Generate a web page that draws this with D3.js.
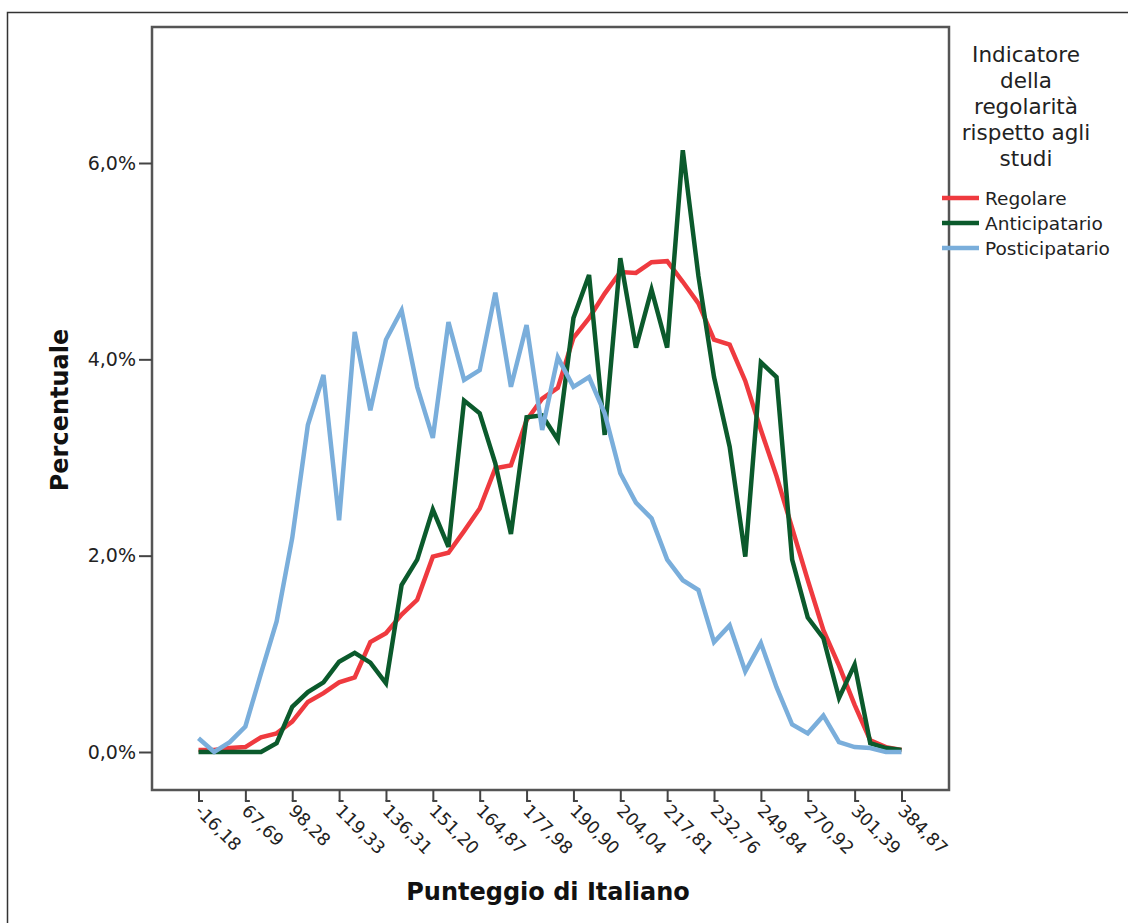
<!DOCTYPE html>
<html><head><meta charset="utf-8">
<script src="https://cdn.jsdelivr.net/npm/d3@7"></script>
<style>html,body{margin:0;padding:0;background:#fff;} svg{display:block;}</style>
</head><body>
<svg id="chart" width="1128" height="923"></svg>
<script>
// ---- data ----
const seriesNames = ["Regolare", "Anticipatario", "Posticipatario"];
const seriesColors = ["#ef3a3f", "#0b5a2c", "#7aaedb"];
const regolare = [0.02,0.02,0.04,0.05,0.15,0.19,0.31,0.51,0.60,0.71,0.76,1.12,1.21,1.40,1.55,1.99,2.03,2.25,2.48,2.89,2.92,3.38,3.60,3.71,4.22,4.42,4.67,4.89,4.88,4.99,5.00,4.79,4.57,4.20,4.15,3.78,3.28,2.81,2.28,1.75,1.24,0.88,0.48,0.12,0.05,0.02];
const anticipatario = [0,0,0,0,0,0.09,0.46,0.61,0.71,0.92,1.01,0.91,0.70,1.70,1.96,2.47,2.09,3.58,3.45,2.94,2.22,3.41,3.43,3.18,4.42,4.86,3.23,5.03,4.12,4.71,4.12,6.13,4.85,3.82,3.11,1.99,3.97,3.82,1.96,1.37,1.16,0.55,0.89,0.09,0.04,0.02];
const posticipatario = [0.14,0.00,0.10,0.26,0.80,1.33,2.18,3.33,3.84,2.36,4.28,3.48,4.20,4.50,3.72,3.20,4.38,3.79,3.89,4.68,3.72,4.35,3.28,4.02,3.72,3.82,3.45,2.84,2.54,2.38,1.96,1.75,1.65,1.12,1.29,0.82,1.11,0.66,0.28,0.19,0.37,0.10,0.05,0.04,0.00,0.00];
const xTickLabels = ["-16,18","67,69","98,28","119,33","136,31","151,20","164,87","177,98","190,90","204,04","217,81","232,76","249,84","270,92","301,39","384,87"];
const xTickEvery = 3;
const yTicks = [0, 2, 4, 6];
const xTitle = "Punteggio di Italiano";
const yTitle = "Percentuale";
const legendTitle = ["Indicatore", "della", "regolarità", "rispetto agli", "studi"];

// ---- drawing ----
const W = 1128, H = 923;
const FONT = "'DejaVu Sans', Verdana, sans-serif";
const svg = d3.select("#chart");
svg.append("rect").attr("width", W).attr("height", H).attr("fill", "#fff");

// outer frame
svg.append("rect").attr("x", 7.5).attr("y", 12.5).attr("width", 1300).attr("height", 1000)
  .attr("fill", "none").attr("stroke", "#333").attr("stroke-width", 1.5);

const plot = {left: 152, right: 949, top: 27, bottom: 790};
const allSeries = [regolare, anticipatario, posticipatario];

const x = d3.scalePoint().domain(d3.range(regolare.length)).range([198.5, 901.5]);
const y = d3.scaleLinear().domain([0, 6]).range([752, 163]);

// plot frame
svg.append("rect").attr("x", plot.left).attr("y", plot.top)
  .attr("width", plot.right - plot.left).attr("height", plot.bottom - plot.top)
  .attr("fill", "none").attr("stroke", "#555").attr("stroke-width", 2.5);

// y axis
const yAxis = svg.append("g").attr("transform", `translate(${plot.left},0)`)
  .call(d3.axisLeft(y).tickValues(yTicks).tickSize(13).tickPadding(3)
    .tickFormat(d => d3.format(".1f")(d).replace(".", ",") + "%"));
yAxis.select(".domain").remove();
yAxis.selectAll(".tick line").attr("stroke", "#444").attr("stroke-width", 2);
yAxis.selectAll(".tick text").attr("font-family", FONT).attr("font-size", 19).attr("fill", "#222");

// x axis
const xAxis = svg.append("g").attr("transform", `translate(0,${plot.bottom})`)
  .call(d3.axisBottom(x).tickValues(d3.range(0, regolare.length, xTickEvery)).tickSize(11)
    .tickFormat(i => xTickLabels[i / xTickEvery]));
xAxis.select(".domain").remove();
xAxis.selectAll(".tick line").attr("stroke", "#444").attr("stroke-width", 2);
xAxis.selectAll(".tick").append("line").attr("x1", -1).attr("x2", 4).attr("y1", 11).attr("y2", 11)
  .attr("stroke", "#444").attr("stroke-width", 2);
xAxis.selectAll(".tick text")
  .attr("x", 0).attr("y", 0).attr("dy", 0)
  .attr("transform", "translate(-5,22) rotate(45)")
  .attr("text-anchor", "start")
  .attr("font-family", FONT).attr("font-size", 17.5).attr("fill", "#222");

// lines
const line = d3.line().x((d, i) => x(i)).y(d => y(d));
svg.append("g").selectAll("path").data(allSeries).join("path")
  .attr("d", line)
  .attr("fill", "none")
  .attr("stroke", (d, i) => seriesColors[i])
  .attr("stroke-width", 4.5)
  .attr("stroke-linejoin", "miter");

// axis titles
svg.append("text").attr("x", 548).attr("y", 900).attr("text-anchor", "middle")
  .attr("font-family", FONT).attr("font-weight", "bold").attr("font-size", 24).attr("fill", "#111")
  .text(xTitle);
svg.append("text").attr("transform", "translate(68,410) rotate(-90)").attr("text-anchor", "middle")
  .attr("font-family", FONT).attr("font-weight", "bold").attr("font-size", 24).attr("fill", "#111")
  .text(yTitle);

// legend
const lg = svg.append("g");
lg.selectAll("text.lt").data(legendTitle).join("text").attr("class", "lt")
  .attr("x", 1026).attr("y", (d, i) => 61.5 + i * 26)
  .attr("text-anchor", "middle").attr("font-family", FONT).attr("font-size", 21.5).attr("fill", "#222")
  .text(d => d);
const items = lg.selectAll("g.item").data(seriesNames).join("g").attr("class", "item")
  .attr("transform", (d, i) => `translate(0,${198 + i * 25})`);
items.append("line").attr("x1", 942).attr("x2", 979).attr("y1", 0).attr("y2", 0)
  .attr("stroke", (d, i) => seriesColors[i]).attr("stroke-width", 4.5);
items.append("text").attr("x", 985).attr("y", 0).attr("dy", "0.36em")
  .attr("font-family", FONT).attr("font-size", 18.5).attr("fill", "#222")
  .text(d => d);
</script>
</body></html>
